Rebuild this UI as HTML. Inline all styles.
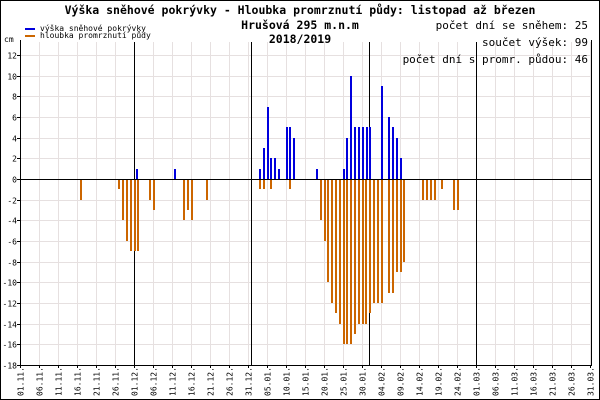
<!DOCTYPE html><html><head><meta charset="utf-8"><style>body{margin:0;background:#fff}svg{display:block}text{font-family:"DejaVu Sans Mono","Liberation Mono",monospace}</style></head><body>
<svg id="s" width="600" height="400" xmlns="http://www.w3.org/2000/svg" shape-rendering="crispEdges">
<rect x="0.5" y="0.5" width="599" height="399" fill="#fff" stroke="#000"/>
<g id="g"></g>
<text x="300" y="14" font-size="11.5" font-weight="bold" text-anchor="middle">Výška sněhové pokrývky - Hloubka promrznutí půdy: listopad až březen</text>
<text x="300" y="29" font-size="11.5" font-weight="bold" text-anchor="middle">Hrušová 295 m.n.m</text>
<text x="300" y="43" font-size="11.5" font-weight="bold" text-anchor="middle">2018/2019</text>
<text x="588" y="29" font-size="11" text-anchor="end">počet dní se sněhem: 25</text>
<text x="588" y="46" font-size="11" text-anchor="end">součet výšek: 99</text>
<text x="588" y="63" font-size="11" text-anchor="end">počet dní s promr. půdou: 46</text>
<rect x="25" y="28" width="10" height="2" fill="#0000dd"/>
<rect x="25" y="35" width="10" height="2" fill="#cc6600"/>
<text x="40" y="31" font-size="8">výška sněhové pokrývky</text>
<text x="40" y="38" font-size="8">hloubka promrznutí půdy</text>
<text x="4" y="42" font-size="8">cm</text>
</svg>
<script>
const g=document.getElementById('g');let h='';
const Y=v=>Math.round(179-v*10.33)+0.5;
for(let v=12;v>=-18;v-=2){h+=`<line x1="20" x2="591" y1="${Y(v)}" y2="${Y(v)}" stroke="#e6e0e0"/>`;h+=`<text x="17" y="${Y(v)+3}" font-size="8" text-anchor="end">${v}</text><line x1="17" x2="20" y1="${Y(v)}" y2="${Y(v)}" stroke="#000"/>`;}
const labs=[];const months=[[11,30],[12,31],[1,31],[2,28],[3,31]];
let d=0;for(const[m,n]of months){for(let i=1;i<=n;i++){if(d%5==0){const x=Math.round(20+d*3.8)+0.5;labs.push([x,(i<10?'0':'')+i+'.'+(m<10?'0':'')+m+'.']);}d++;}}
for(const[x,t]of labs){h+=`<line x1="${x}" x2="${x}" y1="42" y2="365" stroke="#e6e0e0"/><line x1="${x}" x2="${x}" y1="365" y2="368" stroke="#000"/><text transform="translate(${x+3},396) rotate(-90)" font-size="8">${t}</text>`;}
for(const x of[134.5,251.5,369.5,476.5])h+=`<line x1="${x}" x2="${x}" y1="42" y2="365" stroke="#000"/>`;
h+=`<line x1="20" x2="591" y1="179.5" y2="179.5" stroke="#000"/><line x1="20.5" x2="20.5" y1="40" y2="365" stroke="#000"/><line x1="20" x2="591" y1="365.5" y2="365.5" stroke="#000"/><line x1="591.5" x2="591.5" y1="40" y2="366" stroke="#000"/>`;
const snow=[[137,1],[175,1],[260,1],[264,3],[268,7],[271,2],[275,2],[279,1],[287,5],[290,5],[294,4],[317,1],[344,1],[347,4],[351,10],[355,5],[359,5],[363,5],[367,5],[370,5],[382,9],[389,6],[393,5],[397,4],[401,2]];
const fr=[[81,2],[119,1],[123,4],[127,6],[131,7],[135,7],[138,7],[150,2],[154,3],[184,4],[188,3],[192,4],[207,2],[260,1],[264,1],[271,1],[290,1],[321,4],[325,6],[328,10],[332,12],[336,13],[340,14],[344,16],[347,16],[351,16],[355,15],[359,14],[363,14],[366,14],[370,13],[374,12],[378,12],[382,12],[389,11],[393,11],[397,9],[401,9],[404,8],[423,2],[427,2],[431,2],[435,2],[442,1],[454,3],[458,3]];
for(const[x,v]of snow){const t=Math.round(179-v*10.33);h+=`<rect x="${x-1}" y="${t}" width="2" height="${179-t}" fill="#0000dd"/>`;}
for(const[x,v]of fr){const b=Math.round(179+v*10.33);h+=`<rect x="${x-1}" y="180" width="2" height="${b-180}" fill="#cc6600"/>`;}
g.innerHTML=h;
</script></body></html>
